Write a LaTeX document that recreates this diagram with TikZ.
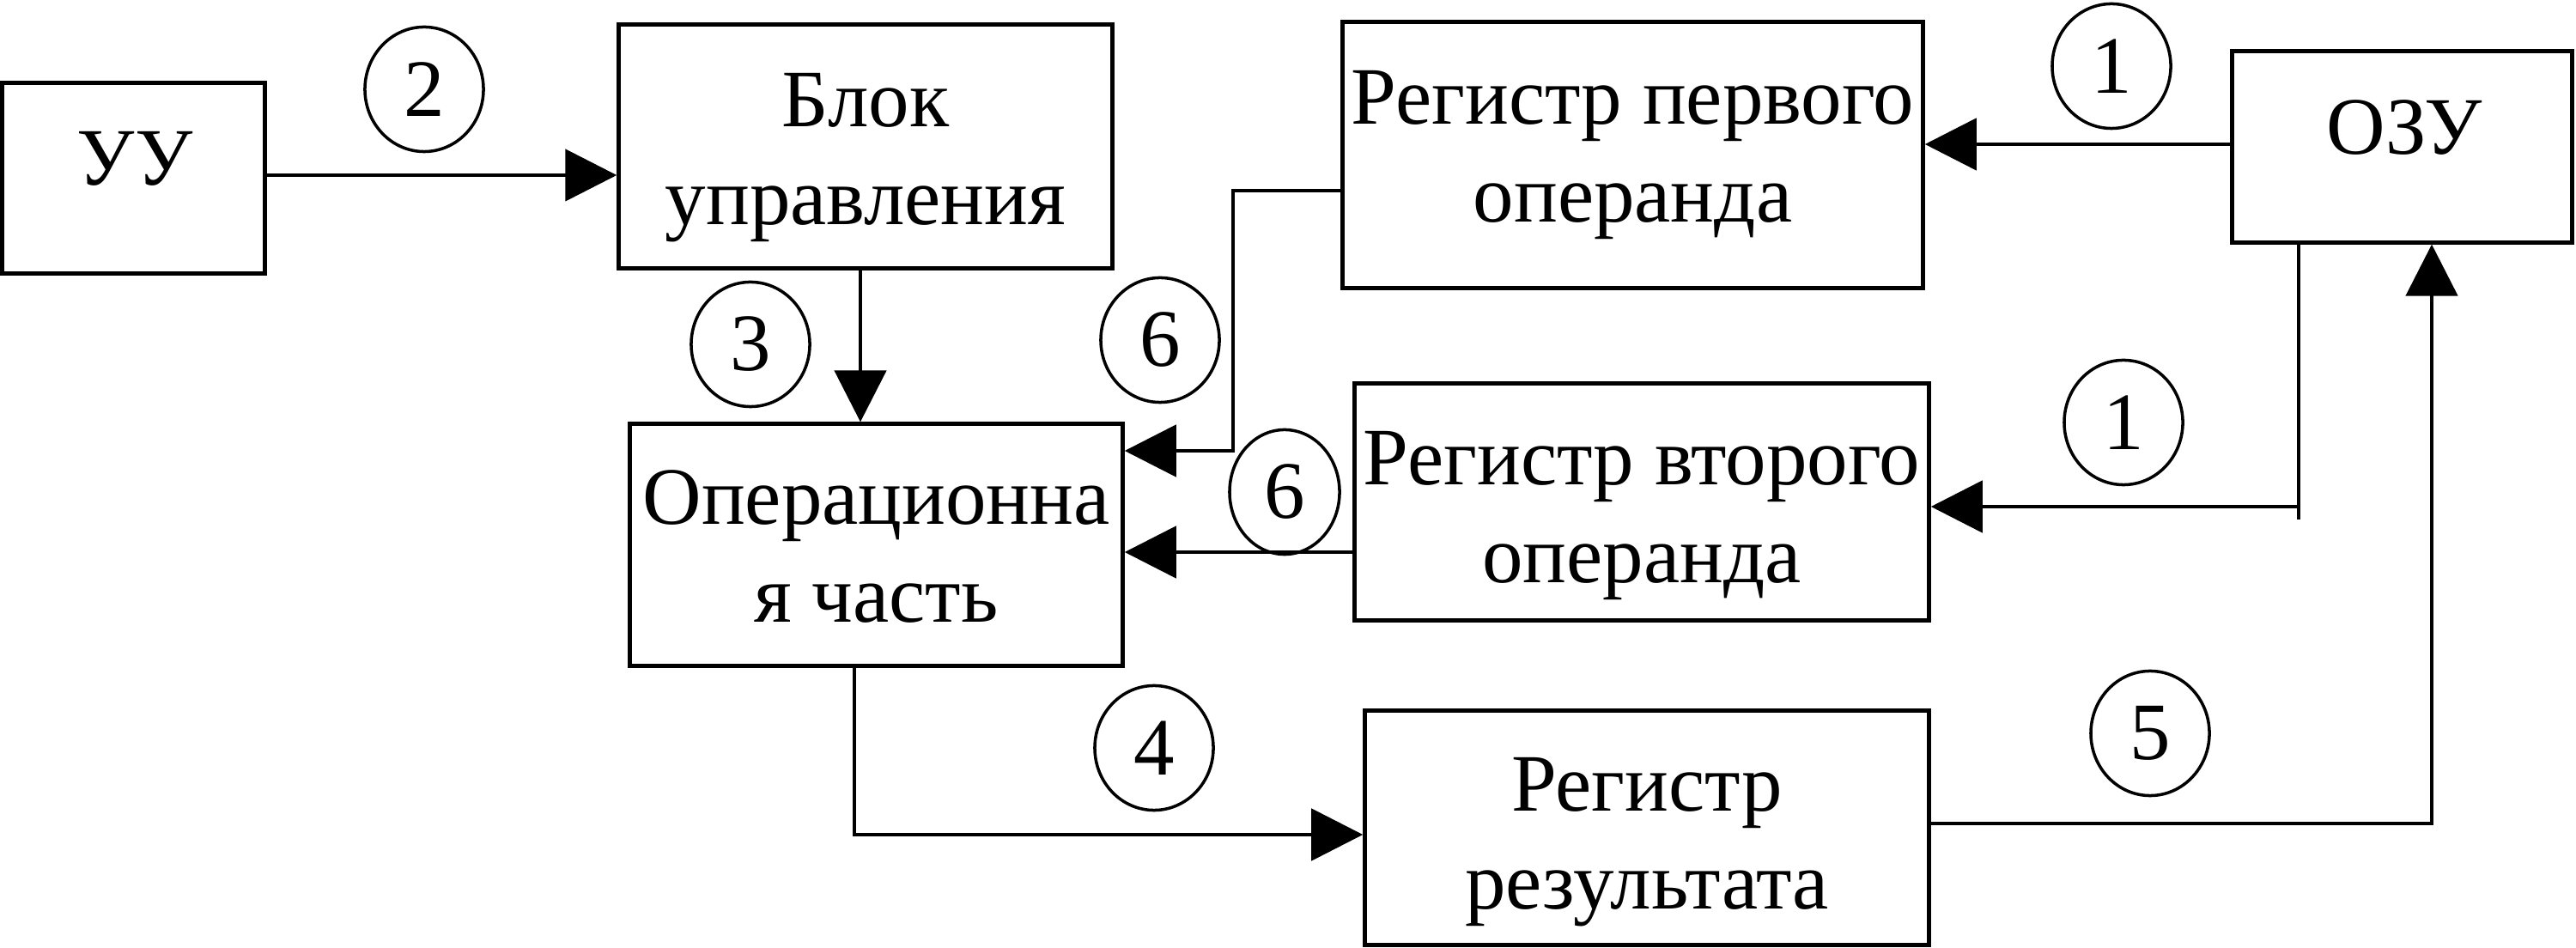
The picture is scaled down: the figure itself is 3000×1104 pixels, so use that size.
\documentclass[tikz,border=0pt]{standalone}
\usepackage{fontspec}
\setmainfont{Liberation Serif}
\usetikzlibrary{arrows.meta,shapes.geometric}
\begin{document}
\begin{tikzpicture}[x=0.01cm,y=-0.01cm,
  box/.style={draw,line width=1.45pt,inner sep=0pt},
  txt/.style={inner sep=0pt,outer sep=0pt,anchor=north,align=center,
    font=\fontsize{27}{32.4}\selectfont},
  num/.style={draw,ellipse,line width=1pt,inner sep=0pt,minimum width=1.38cm,minimum height=1.45cm,
    font=\fontsize{27}{32.4}\selectfont},
  arr/.style={line width=1.35pt,-{Triangle[length=0.6cm,width=0.6cm]}},
  ln/.style={line width=1.35pt}]
\useasboundingbox[fill=white] (0,0) rectangle (3000,1104);
% boxes
\node[box,minimum width=3.05cm,minimum height=2.21cm] (uu) at (155.5,207.5) {};
\node[box,minimum width=5.74cm,minimum height=2.83cm] (bu) at (1008,170.5) {};
\node[box,minimum width=6.75cm,minimum height=3.09cm] (r1) at (1901.5,180.5) {};
\node[box,minimum width=3.95cm,minimum height=2.22cm] (oz) at (2797.5,171) {};
\node[box,minimum width=5.73cm,minimum height=2.81cm] (op) at (1020.5,634.5) {};
\node[box,minimum width=6.68cm,minimum height=2.75cm] (r2) at (1912,584.5) {};
\node[box,minimum width=6.56cm,minimum height=2.72cm] (rz) at (1918,964) {};
% box texts
\node[txt] (uut) at (157,153) {УУ};
\node[txt] (but) at (1008,85) {Блок\\управления};
\node[txt] (r1t) at (1901.5,82) {Регистр первого\\операнда};
\node[txt] (ozt) at (2800,117) {ОЗУ};
\node[txt] (opt) at (1020.5,548) {Операционна\\я часть};
\node[txt] (r2t) at (1912,502) {Регистр второго\\операнда};
\node[txt] (rzt) at (1918,882) {Регистр\\результата};
% number labels
\node[num] (n2) at (494,104) {2};
\node[num] (n1a) at (2459,77) {1};
\node[num] (n3) at (874,401) {3};
\node[num] (n6a) at (1351,396) {6};
\node[num,minimum width=1.28cm] (n6b) at (1496,573) {6};
\node[num] (n1b) at (2473,492) {1};
\node[num] (n4) at (1344,871) {4};
\node[num] (n5) at (2504,854) {5};
% connector coordinates
\coordinate (a2) at (0,204);
\coordinate (a1t) at (0,168);
\coordinate (a3) at (1002,0);
\coordinate (k6) at (1436,222);
\coordinate (a6t) at (0,525);
\coordinate (a6b) at (0,643);
\coordinate (k1) at (2677,590);
\coordinate (k1e) at (2677,605);
\coordinate (k4) at (995,972);
\coordinate (k5) at (2832,959);
% connectors
\draw[arr] (uu.east |- a2) -- (bu.west |- a2);
\draw[arr] (oz.west |- a1t) -- (r1.east |- a1t);
\draw[arr] (bu.south -| a3) -- (op.north -| a3);
\draw[arr] (r1.west |- k6) -- (k6) -- (k6 |- a6t) -- (op.east |- a6t);
\draw[arr] (r2.west |- a6b) -- (op.east |- a6b);
\draw[ln] (oz.south -| k1) -- (k1e);
\draw[arr] (k1) -- (r2.east |- k1);
\draw[arr] (op.south -| k4) -- (k4) -- (rz.west |- k4);
\draw[arr] (rz.east |- k5) -- (k5) -- (oz.south -| k5);
\end{tikzpicture}
\end{document}
